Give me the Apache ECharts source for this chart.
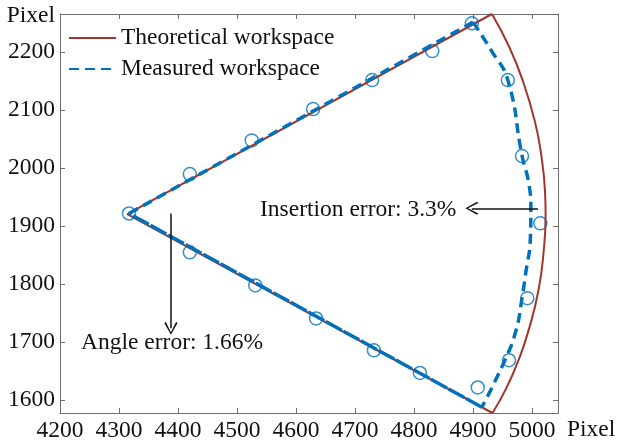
<!DOCTYPE html>
<html>
<head>
<meta charset="utf-8">
<script src="https://cdn.jsdelivr.net/npm/echarts@6/dist/echarts.min.js"></script>
<style>
    html, body { margin: 0; padding: 0; background: #fff; }
    #main { width: 617px; height: 445px; }
</style>
</head>
<body>
<div id="main"></div>
<script>
const chart = echarts.init(document.querySelector("#main"));

// tick values
const xTicks = [4200, 4300, 4400, 4500, 4600, 4700, 4800, 4900, 5000];
const yTicks = [1600, 1700, 1800, 1900, 2000, 2100, 2200];

// theoretical workspace: two straight edges and the outer arc
const theoryEdges = [[4932, 2266], [4314, 1921], [4933, 1578]];
const theoryArc = [
    [4932, 2266], [4961, 2210], [4984, 2152], [5005, 2080], [5016, 2020],
    [5022, 1960], [5023, 1920], [5020, 1860], [5011, 1790], [4994, 1720],
    [4977, 1669], [4956, 1620], [4933, 1578],
];

// measured workspace
const measuredUpper = [[4317, 1922], [4900, 2252]];
const measuredArc = [
    [4900, 2252], [4931, 2203], [4959, 2152], [4983, 2022], [4995, 1971],
    [4998, 1931], [4997, 1876], [4990, 1824], [4983, 1776], [4973, 1721],
    [4954, 1669], [4915, 1588],
];
const measuredLower = [[4915, 1588], [4317, 1922]];

// measured sample points (circles)
const measuredPoints = [
    [4317, 1922], [4420, 1990], [4525, 2048], [4629, 2102], [4729, 2152],
    [4831, 2202], [4898, 2250], [4959, 2152], [4983, 2021], [5014, 1905],
    [4992, 1776], [4961, 1669], [4908, 1622], [4810, 1647], [4732, 1686],
    [4634, 1741], [4531, 1798], [4420, 1855],
];

// annotation arrows
const insertionArrow = [[5010, 1931], [4898, 1931]];
const angleArrow = [[4388, 1922], [4388, 1724]];

const font = "Liberation Serif";
const axisColor = "#6e6e6e";
const textColor = "#111";
const blue = "#0072BD";
const brown = "#A2352B";
const arrowHead = "path://M5,0 L10,9 L9,10 L5,2 L1,10 L0,9 Z";

const xMin = 4200, xMax = 5044, yMin = 1578, yMax = 2266;

function axisCommon(showLabel) {
    return {
        type: "value",
        scale: true,
        axisLine: { show: true, onZero: false, lineStyle: { color: axisColor, width: 1 } },
        axisTick: { show: true, inside: true, length: 5, lineStyle: { color: axisColor } },
        splitLine: { show: false },
        axisLabel: {
            show: showLabel,
            fontSize: 23.5,
            fontFamily: font,
            color: textColor,
            formatter: (v) => String(v),
        },
    };
}

const xBottom = axisCommon(true);
xBottom.min = xMin; xBottom.max = xMax; xBottom.position = "bottom";
xBottom.axisTick.customValues = xTicks;
xBottom.axisLabel.customValues = xTicks;
xBottom.axisLabel.margin = 6;

const xTop = axisCommon(false);
xTop.min = xMin; xTop.max = xMax; xTop.position = "top";
xTop.axisTick.customValues = xTicks;

const yLeft = axisCommon(true);
yLeft.min = yMin; yLeft.max = yMax; yLeft.position = "left";
yLeft.axisTick.customValues = yTicks;
yLeft.axisLabel.customValues = yTicks;
yLeft.axisLabel.margin = 5;

const yRight = axisCommon(false);
yRight.min = yMin; yRight.max = yMax; yRight.position = "right";
yRight.axisTick.customValues = yTicks;

function lineSeries(name, data, style, smooth) {
    return {
        name: name,
        type: "line",
        data: data,
        symbol: "none",
        smooth: smooth,
        lineStyle: style,
        itemStyle: { color: style.color },
    };
}

const theoryStyle = { color: brown, width: 2 };
const measuredStyle = { color: blue, width: 3.5, type: [10, 6] };

let option = {
    animation: false,
    backgroundColor: "#fff",
    grid: { left: 60, right: 59, top: 14, bottom: 32 },
    xAxis: [xBottom, xTop],
    yAxis: [yLeft, yRight],
    legend: {
        orient: "vertical",
        left: 63,
        top: 21,
        itemWidth: 47,
        itemHeight: 14,
        itemGap: 7,
        itemStyle: { opacity: 0 },
        textStyle: { fontSize: 23.5, fontFamily: font, color: textColor },
        data: ["Theoretical workspace", "Measured workspace"],
    },
    series: [
        lineSeries("Theoretical workspace", theoryEdges, theoryStyle, false),
        lineSeries("Theoretical workspace", theoryArc, theoryStyle, 0.5),
        lineSeries("Measured workspace", measuredUpper, measuredStyle, false),
        lineSeries("Measured workspace", measuredArc, measuredStyle, 0.5),
        lineSeries("Measured workspace", measuredLower, { color: blue, width: 3.5, type: [18, 2] }, false),
        {
            name: "measured-points",
            type: "scatter",
            data: measuredPoints,
            symbol: "circle",
            symbolSize: 13,
            itemStyle: { color: "rgba(0,0,0,0)", borderColor: blue, borderWidth: 1.5 },
            markLine: {
                silent: true,
                symbol: ["none", arrowHead],
                symbolSize: [13, 13],
                label: { show: false },
                lineStyle: { color: "#111", width: 1.5, type: "solid" },
                data: [
                    [{ coord: insertionArrow[0] }, { coord: insertionArrow[1] }],
                    [{ coord: angleArrow[0] }, { coord: angleArrow[1] }],
                ],
            },
        },
    ],
    graphic: [
        {
            type: "text", x: 55, y: 16,
            style: { text: "Pixel", font: "23.5px " + font, fill: textColor, align: "right", verticalAlign: "middle" },
        },
        {
            type: "text", x: 567, y: 430,
            style: { text: "Pixel", font: "23.5px " + font, fill: textColor, align: "left", verticalAlign: "middle" },
        },
        {
            type: "text", x: 260, y: 210,
            style: { text: "Insertion error: 3.3%", font: "23.5px " + font, fill: textColor, align: "left", verticalAlign: "middle" },
        },
        {
            type: "text", x: 81, y: 343,
            style: { text: "Angle error: 1.66%", font: "23.5px " + font, fill: textColor, align: "left", verticalAlign: "middle" },
        },
    ],
};
chart.setOption(option);
</script>
</body>
</html>
